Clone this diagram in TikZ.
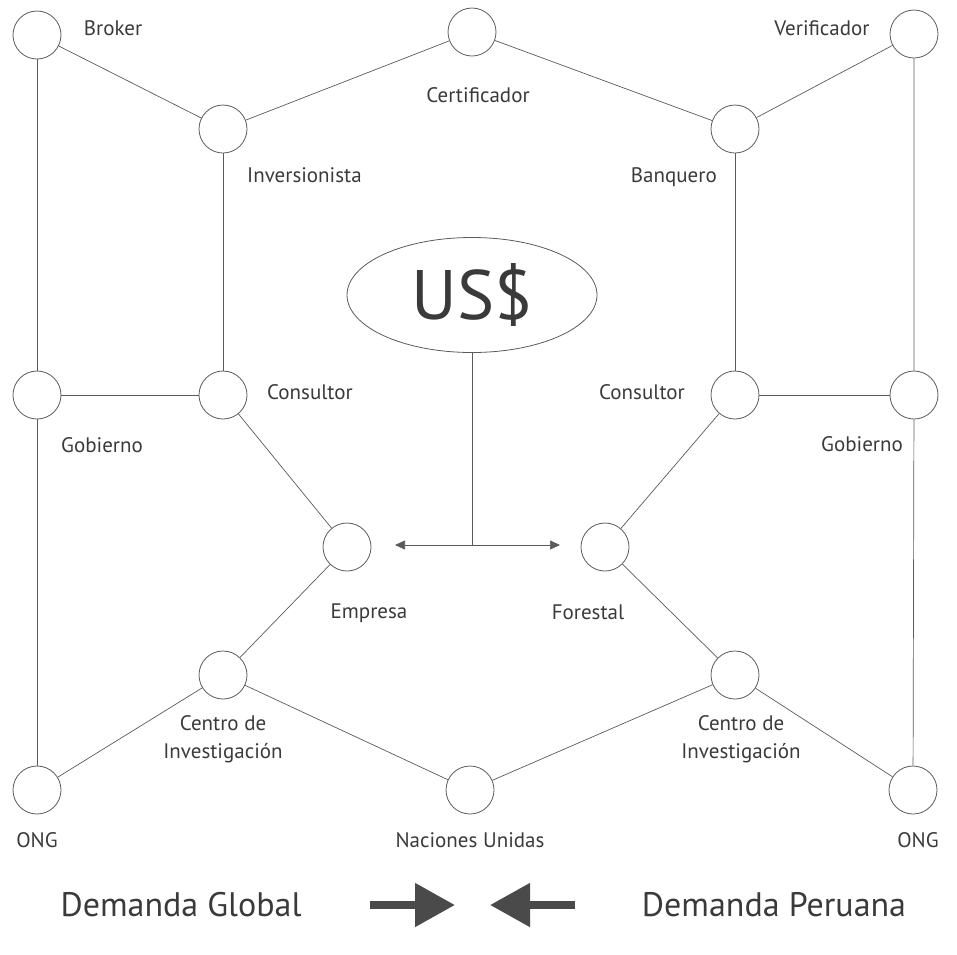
\documentclass[tikz,border=0pt]{standalone}
\usepackage{fontspec}
\setmainfont{PT Sans}
\usetikzlibrary{shapes.geometric,arrows.meta}
\definecolor{ink}{HTML}{3A3A3A}
\definecolor{wire}{HTML}{5A5A5A}
\definecolor{heavy}{HTML}{4A4A4A}

\begin{document}
\begin{tikzpicture}[x=1pt,y=-1pt,
  actor/.style={circle,draw=wire,line width=0.8pt,minimum size=48pt,inner sep=0pt},
  link/.style={draw=wire,line width=0.7pt},
  lbl/.style={text=ink,font=\fontsize{21}{28}\selectfont,inner sep=0pt,align=center},
  big/.style={text=ink,font=\fontsize{34}{40}\selectfont,inner sep=0pt},
  fat/.style={draw=heavy,line width=8pt,-{Triangle[length=40pt,width=42pt]},heavy}]
\useasboundingbox (0,0) rectangle (957,954);

% actors
\node[actor] (broker) at (37,35) {};
\node[actor] (cert)   at (472,32) {};
\node[actor] (verif)  at (914,34) {};
\node[actor] (inv)    at (223,129) {};
\node[actor] (banq)   at (735,129) {};
\node[actor] (gobL)   at (37,395) {};
\node[actor] (consL)  at (223,395) {};
\node[actor] (consR)  at (735,395) {};
\node[actor] (gobR)   at (914,395) {};
\node[actor] (emp)    at (347,547) {};
\node[actor] (forest) at (605,547) {};
\node[actor] (centL)  at (223,675) {};
\node[actor] (centR)  at (735,675) {};
\node[actor] (ongL)   at (37,790) {};
\node[actor] (nac)    at (470,790) {};
\node[actor] (ongR)   at (913,790) {};

% money
\node[ellipse,draw=wire,line width=0.8pt,minimum width=250pt,minimum height=115pt,inner sep=0pt,
      text=ink,font=\fontsize{70}{70}\selectfont] (usd) at (472,295) {US\$};

% labels
\node[lbl] (tBroker) at (113,28) {Broker};
\node[lbl] (tCert)   at (478,95) {Certificador};
\node[lbl] (tVerif)  at (822,28) {Verificador};
\node[lbl,anchor=west] (tInv)  at (247,175) {Inversionista};
\node[lbl,anchor=east] (tBanq) at (717,177) {Banquero};
\node[lbl,anchor=west] (tConsL) at (267,392) {Consultor};
\node[lbl,anchor=east] (tConsR) at (685,392) {Consultor};
\node[lbl] (tGobL) at (102,445) {Gobierno};
\node[lbl] (tGobR) at (862,444) {Gobierno};
\node[lbl] (tEmp)  at (369,613) {Empresa};
\node[lbl] (tFor)  at (588,612) {Forestal};
\node[lbl] (tCenL) at (223,739) {Centro de\\Investigación};
\node[lbl] (tCenR) at (741,739) {Centro de\\Investigación};
\node[lbl] (tOngL) at (37,840) {ONG};
\node[lbl] (tNac)  at (470,840) {Naciones Unidas};
\node[lbl] (tOngR) at (918,840) {ONG};

% network
\draw[link] (broker) -- (inv) -- (cert) -- (banq) -- (verif);
\draw[link] (broker) -- (gobL) -- (ongL);
\draw[link] (verif) -- (gobR) -- (ongR);
\draw[link] (inv) -- (consL) -- (gobL);
\draw[link] (banq) -- (consR) -- (gobR);
\draw[link] (consL) -- (emp) -- (centL);
\draw[link] (consR) -- (forest) -- (centR);
\draw[link] (ongL) -- (centL) -- (nac) -- (centR) -- (ongR);

% flow of money
\coordinate (hub) at (472,545);
\coordinate (toEmp) at (395,545);
\coordinate (toFor) at (560,545);
\draw[link] (usd.south) -- (hub);
\draw[link,{Triangle[length=10pt,width=9pt]}-{Triangle[length=10pt,width=9pt]},fill=wire] (toEmp) -- (toFor);

% demand
\node[big] (demG) at (181,905) {Demanda Global};
\node[big] (demP) at (774,905) {Demanda Peruana};
\coordinate (gTail) at (370,905);
\coordinate (gTip)  at (455,905);
\coordinate (pTail) at (575,905);
\coordinate (pTip)  at (490,905);
\draw[fat] (gTail) -- (gTip);
\draw[fat] (pTail) -- (pTip);
\end{tikzpicture}
\end{document}
